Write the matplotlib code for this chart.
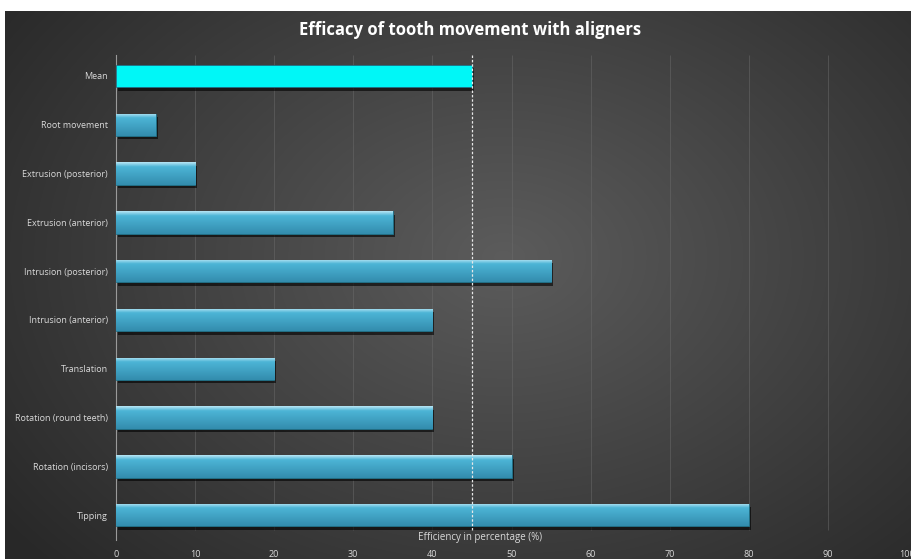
import matplotlib
matplotlib.use('Agg')
import matplotlib.pyplot as plt
import matplotlib.patheffects as pe
import numpy as np

CATEGORIES = [
    'Tipping',
    'Rotation (incisors)',
    'Rotation (round teeth)',
    'Translation',
    'Intrusion (anterior)',
    'Intrusion (posterior)',
    'Extrusion (anterior)',
    'Extrusion (posterior)',
    'Root movement',
    'Mean',
]
VALUES = [80, 50, 40, 20, 40, 55, 35, 10, 5, 45]
MEAN_VALUE = 45
X_TICKS = [0, 10, 20, 30, 40, 50, 60, 70, 80, 90, 100]

TITLE = 'Efficacy of tooth movement with aligners'
XLABEL = 'Efficiency in percentage (%)'

BAR_COLOR = '#4db6d6'
MEAN_COLOR = '#00f7f7'
TEXT_COLOR = '#d9d9d9'

plt.rcParams['font.family'] = ['Open Sans', 'DejaVu Sans']

fig = plt.figure(figsize=(9.12, 5.59), dpi=100, facecolor='white')

# dark radial background (slide look), white margin top/left
bg = fig.add_axes([5 / 912, 0, 1 - 5 / 912, 548 / 559])
yy, xx = np.mgrid[0:1:300j, 0:1:500j]
r = np.sqrt(((xx - 0.55) / 0.75) ** 2 + ((yy - 0.45) / 0.9) ** 2)
shade = np.clip(0.36 - 0.22 * r, 0.16, 0.36)
bg.imshow(np.dstack([shade] * 3), aspect='auto', extent=[0, 1, 0, 1],
          interpolation='bicubic')
bg.set_axis_off()

ax = fig.add_axes([116 / 912, 19 / 559, 791 / 912, 485 / 559])
ax.set_facecolor('none')

y = np.arange(len(CATEGORIES))
colors = [MEAN_COLOR if c == 'Mean' else BAR_COLOR for c in CATEGORIES]
bars = ax.barh(y, VALUES, height=0.46, color=colors, zorder=3,
               edgecolor='#1f6f86', linewidth=0.6)

# glossy gradient on the blue bars
grad = np.linspace(0, 1, 64).reshape(-1, 1)
for bar, cat in zip(bars, CATEGORIES):
    bar.set_path_effects([pe.SimplePatchShadow(offset=(1.5, -2.5), alpha=0.6,
                                               shadow_rgbFace='black'),
                          pe.Normal()])
    if cat == 'Mean':
        continue
    x0, y0 = bar.get_x(), bar.get_y()
    w, h = bar.get_width(), bar.get_height()
    top = np.array([0.72, 0.90, 0.96])
    mid = np.array([0.30, 0.71, 0.84])
    bot = np.array([0.20, 0.55, 0.68])
    img = np.where(grad < 0.2, top + (mid - top) * (grad / 0.2),
                   mid + (bot - mid) * ((grad - 0.2) / 0.8))
    img = img.reshape(64, 1, 3)
    im = ax.imshow(img, aspect='auto', extent=[x0, x0 + w, y0, y0 + h],
                   origin='upper', zorder=3.5, interpolation='bilinear')
    im.set_clip_path(bar)

ax.set_xlim(0, 100)
ax.set_ylim(-0.51, len(CATEGORIES) - 1 + 0.43)

# grid and mean line stop a little above the bottom of the axis line
grid_bottom = -0.3
ax.vlines(X_TICKS[1:], grid_bottom, len(CATEGORIES) - 1 + 0.43,
          color='#6a6a6a', lw=0.6, alpha=0.6, zorder=0)
ax.vlines(MEAN_VALUE, grid_bottom, len(CATEGORIES) - 1 + 0.43,
          color='#e8e8e8', lw=0.9, linestyles=(0, (2, 1.5)), zorder=4)

ax.set_xticks(X_TICKS)
ax.set_yticks(y)
ax.set_yticklabels(CATEGORIES)

for side in ['top', 'right', 'bottom']:
    ax.spines[side].set_visible(False)
ax.spines['left'].set_color('#9a9a9a')
ax.spines['left'].set_linewidth(0.8)
ax.tick_params(axis='both', length=0, colors=TEXT_COLOR, labelsize=6.5)
ax.tick_params(axis='x', pad=7)
ax.tick_params(axis='y', pad=6)

ax.text(46, -0.45, XLABEL, ha='center', va='center',
        color=TEXT_COLOR, fontsize=7)

fig.text(470 / 912, 1 - 30 / 559, TITLE, ha='center', va='center',
         color='white', fontsize=12, fontweight='bold')

fig.savefig('out.png', dpi=100, facecolor=fig.get_facecolor())
